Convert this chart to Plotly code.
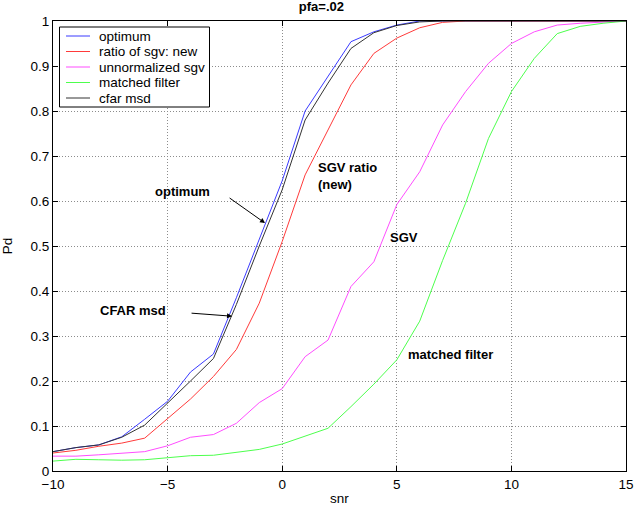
import plotly.graph_objects as go

snr = list(range(-10, 16))

optimum = [0.043, 0.052, 0.058, 0.076, 0.115, 0.155, 0.220, 0.260, 0.385, 0.515,
           0.645, 0.800, 0.878, 0.954, 0.976, 0.991, 1.0, 1.0, 1.0, 1.0,
           1.0, 1.0, 1.0, 1.0, 1.0, 1.0]
ratio_sgv_new = [0.040, 0.046, 0.055, 0.062, 0.073, 0.117, 0.160, 0.210, 0.270, 0.373,
                 0.510, 0.658, 0.758, 0.858, 0.928, 0.962, 0.985, 0.997, 1.0, 1.0,
                 1.0, 1.0, 1.0, 1.0, 1.0, 1.0]
unnormalized_sgv = [0.033, 0.033, 0.036, 0.040, 0.043, 0.056, 0.075, 0.081, 0.106, 0.152,
                    0.183, 0.254, 0.291, 0.410, 0.465, 0.592, 0.665, 0.769, 0.843, 0.906,
                    0.950, 0.976, 0.991, 0.995, 0.998, 1.0]
matched_filter = [0.022, 0.026, 0.025, 0.024, 0.025, 0.030, 0.034, 0.035, 0.041, 0.048,
                  0.060, 0.077, 0.095, 0.143, 0.193, 0.247, 0.333, 0.468, 0.595, 0.739,
                  0.843, 0.917, 0.972, 0.988, 0.995, 1.0]
cfar_msd = [0.043, 0.052, 0.058, 0.075, 0.102, 0.150, 0.200, 0.250, 0.370, 0.500,
            0.625, 0.780, 0.862, 0.939, 0.974, 0.990, 0.998, 1.0, 1.0, 1.0,
            1.0, 1.0, 1.0, 1.0, 1.0, 1.0]

series_names = ["optimum", "ratio of sgv: new", "unnormalized sgv", "matched filter", "cfar msd"]
series_values = [optimum, ratio_sgv_new, unnormalized_sgv, matched_filter, cfar_msd]
series_colors = ["#3a3aff", "#ff3a3a", "#ff4dff", "#4dff4d", "#333333"]

x_ticks = [-10, -5, 0, 5, 10, 15]
y_ticks = [0, 0.1, 0.2, 0.3, 0.4, 0.5, 0.6, 0.7, 0.8, 0.9, 1]
y_ticklabels = ["0", "0.1", "0.2", "0.3", "0.4", "0.5", "0.6", "0.7", "0.8", "0.9", "1"]

FONT = "Liberation Sans, Arial, sans-serif"
W, H = 644, 510
ML, MR, MT, MB = 53, 18, 21, 39
PW, PH = W - ML - MR, H - MT - MB

def px(xp):
    return (xp - ML) / PW

def py(yp):
    return (H - MB - yp) / PH

fig = go.Figure()
for name, vals, col in zip(series_names, series_values, series_colors):
    fig.add_trace(go.Scatter(x=snr, y=vals, mode="lines", name=name,
                             line=dict(color=col, width=1), showlegend=False))

axis_common = dict(showline=True, linecolor="black", linewidth=1, mirror="ticks",
                   ticks="inside", ticklen=5, tickcolor="black", automargin=False,
                   showgrid=True, gridcolor="#8c8c8c", griddash="1px,2px", gridwidth=1,
                   zeroline=False, tickfont=dict(family=FONT, size=13.5, color="black"))

fig.update_xaxes(range=[-10, 15], tickvals=x_ticks, **axis_common, ticklabelstandoff=1,
                 title=dict(text="snr", font=dict(family=FONT, size=13.5, color="black"), standoff=2))
fig.update_yaxes(range=[0, 1], tickvals=y_ticks, ticktext=y_ticklabels, **axis_common,
                 title=dict(text="Pd", font=dict(family=FONT, size=13.5, color="black"), standoff=14))

bold = dict(family=FONT, size=13, color="black")
annotations = [
    dict(x=-0.75, y=0.551, ax=-2.36, ay=0.609, xref="x", yref="y", axref="x", ayref="y",
         text="", showarrow=True, arrowhead=2, arrowsize=1, arrowwidth=1, arrowcolor="black"),
    dict(x=-2.19, y=0.344, ax=-4.02, ay=0.351, xref="x", yref="y", axref="x", ayref="y",
         text="", showarrow=True, arrowhead=2, arrowsize=1, arrowwidth=1, arrowcolor="black"),
    dict(x=-4.37, y=0.622, text="<b>optimum</b>", showarrow=False, font=bold),
    dict(x=-6.51, y=0.356, text="<b>CFAR msd</b>", showarrow=False, font=bold),
    dict(x=1.47, y=0.695, text="<b>SGV ratio<br>(new)</b>", showarrow=False, font=bold,
         xanchor="left", yanchor="top", align="left"),
    dict(x=4.6, y=0.52, text="<b>SGV</b>", showarrow=False, font=bold, xanchor="left"),
    dict(x=5.4, y=0.26, text="<b>matched filter</b>", showarrow=False, font=bold, xanchor="left"),
]

# Legend box (drawn manually to match the compact MATLAB legend)
shapes = [dict(type="rect", xref="paper", yref="paper",
               x0=px(59.5), x1=px(209.5), y0=py(107), y1=py(27),
               line=dict(color="black", width=1), fillcolor="white", layer="above")]
row_y = [36, 51.5, 67, 82.5, 98]
for ry, name, col in zip(row_y, series_names, series_colors):
    shapes.append(dict(type="line", xref="paper", yref="paper",
                       x0=px(66), x1=px(90), y0=py(ry), y1=py(ry),
                       line=dict(color=col, width=1), layer="above"))
    annotations.append(dict(x=px(97), y=py(ry), xref="paper", yref="paper",
                            text=name, showarrow=False, xanchor="left", yanchor="middle",
                            font=dict(family=FONT, size=13.5, color="black")))

fig.update_layout(
    width=W, height=H,
    margin=dict(l=ML, r=MR, t=MT, b=MB, autoexpand=False),
    paper_bgcolor="white", plot_bgcolor="white",
    font=dict(family=FONT, size=13.5, color="black"),
    title=dict(text="<b>pfa=.02</b>", x=px(339), xanchor="center",
               yref="container", y=1, yanchor="top", pad=dict(t=2),
               font=dict(family=FONT, size=13, color="black")),
    annotations=annotations,
    shapes=shapes,
    showlegend=False,
)

fig.write_html("out.html", config={"displayModeBar": False},
               post_script="document.body.style.margin='0';document.body.style.overflow='hidden';")
